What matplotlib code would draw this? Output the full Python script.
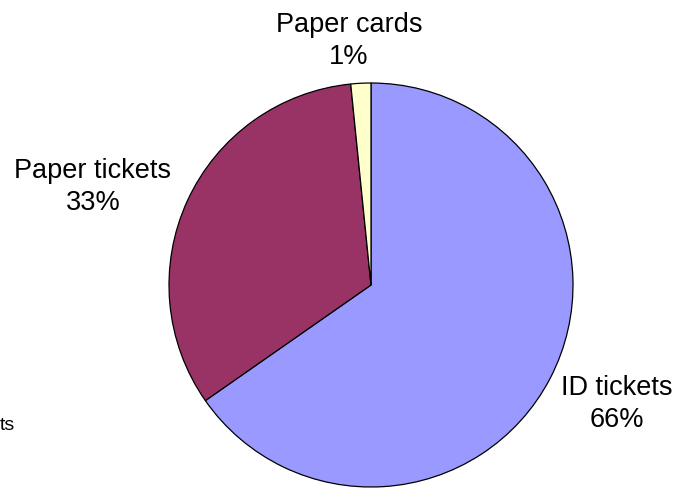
import matplotlib
matplotlib.use("Agg")
import matplotlib.pyplot as plt

plt.rcParams['font.family'] = ['Liberation Sans', 'DejaVu Sans']

labels = ["ID tickets", "Paper tickets", "Paper cards"]
values = [65.3, 33.1, 1.6]
pct_labels = ["66%", "33%", "1%"]
colors = ["#9999FF", "#993366", "#FFFFCC"]
# label positions in figure pixels (x, y from top)
label_pos = [(617, 404), (93, 187), (349, 41)]

W, H = 677, 490
fig = plt.figure(figsize=(W / 100, H / 100), dpi=100)

cx, cy, r = 371, 285, 202
pad = 1.03
ax = fig.add_axes([(cx - r * pad) / W, (H - cy - r * pad) / H,
                   2 * r * pad / W, 2 * r * pad / H])
ax.pie(values, colors=colors, startangle=90, counterclock=False,
       radius=1, wedgeprops=dict(edgecolor="black", linewidth=0.9))
ax.set_xlim(-pad, pad)
ax.set_ylim(-pad, pad)
ax.set_aspect("equal")
ax.axis("off")

for lab, pct, (px, py) in zip(labels, pct_labels, label_pos):
    fig.text(px / W, 1 - py / H, f"{lab}\n{pct}",
             ha="center", va="center", fontsize=19.5, linespacing=1.3)

# cut-off legend remnant
fig.text(0, 1 - 425 / H, "ts", ha="left", va="center", fontsize=14)

fig.savefig("out.png", dpi=100)
